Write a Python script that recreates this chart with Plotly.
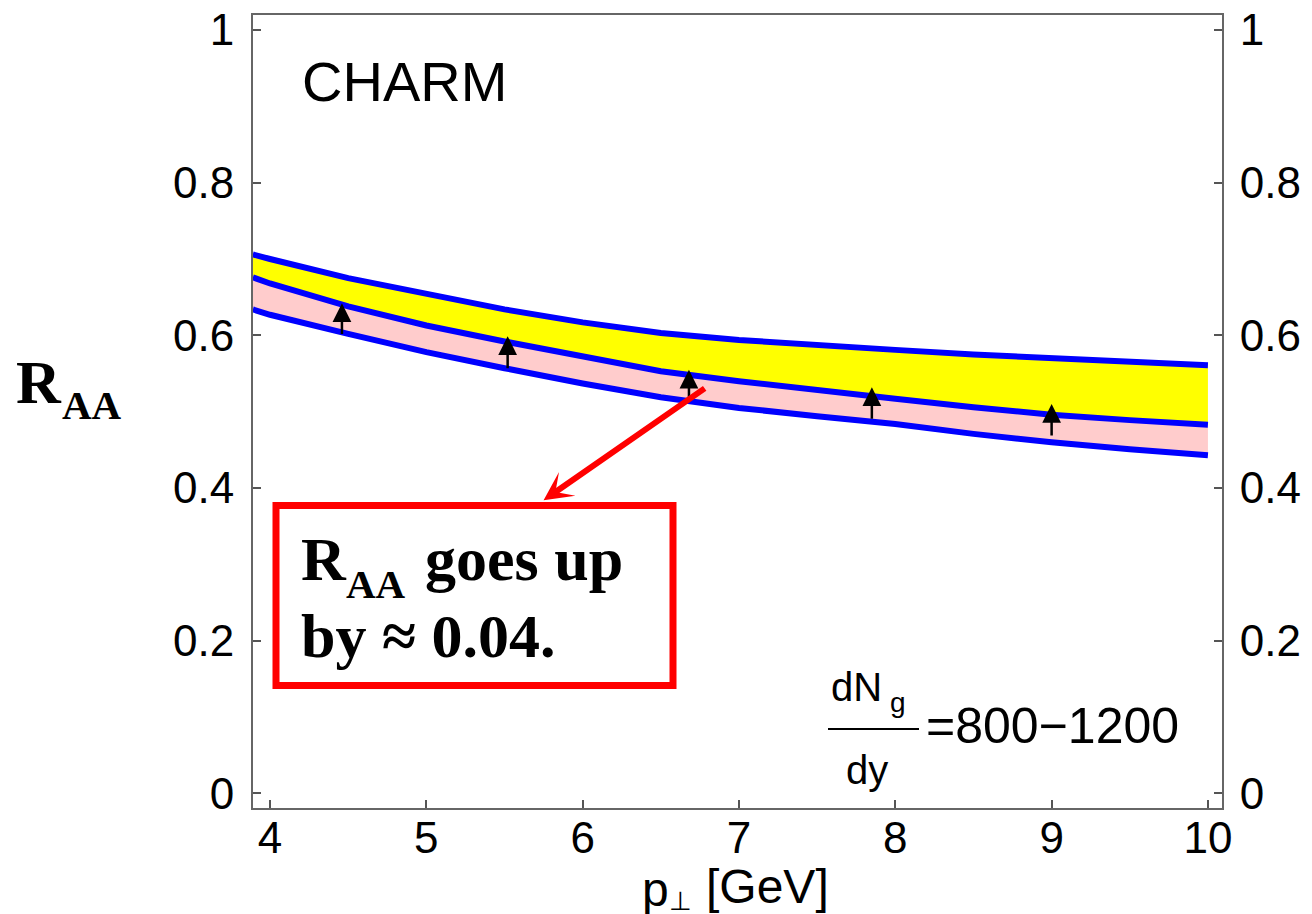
import plotly.graph_objects as go

# ---------------- data ----------------
pt = [3.89, 4.0, 4.5, 5.0, 5.5, 6.0, 6.5, 7.0, 7.5, 8.0, 8.5, 9.0, 9.5, 10.0]
raa_upper = [0.706, 0.700, 0.675, 0.655, 0.634, 0.617, 0.603, 0.594, 0.587, 0.581, 0.575, 0.570, 0.565, 0.561]
raa_middle = [0.676, 0.668, 0.638, 0.613, 0.592, 0.572, 0.553, 0.540, 0.528, 0.517, 0.506, 0.496, 0.489, 0.483]
raa_lower = [0.634, 0.627, 0.602, 0.578, 0.557, 0.537, 0.519, 0.505, 0.494, 0.484, 0.471, 0.460, 0.451, 0.443]

arrow_x = [4.46, 5.52, 6.68, 7.85, 9.0]
arrow_from = [0.600, 0.555, 0.511, 0.489, 0.467]
arrow_to = [0.642, 0.599, 0.555, 0.532, 0.510]

x_ticks = [4, 5, 6, 7, 8, 9, 10]
x_ticklabels = ["4", "5", "6", "7", "8", "9", "10"]
y_ticks = [0, 0.2, 0.4, 0.6, 0.8, 1.0]
y_ticklabels = ["0", "0.2", "0.4", "0.6", "0.8", "1"]

# red pointer (tail -> head) in data units
pointer_tail = (6.79, 0.532)
pointer_head = (5.75, 0.384)

# ---------------- geometry helpers ----------------
# page pixel positions of the plot frame; the page body has an 8px margin
OFF = 8
L, R, T, B = 253, 1222, 15, 808
W, H = R - L, B - T


def px(x):
    return (x - L) / W


def py(y):
    return (B - y) / H


SANS = "Liberation Sans, Arial, sans-serif"
SERIF = "Liberation Serif, Times New Roman, serif"
BLUE = "#0000FF"

fig = go.Figure()

# bands
fig.add_trace(go.Scatter(x=pt, y=raa_lower, mode="lines", line=dict(width=0, color=BLUE),
                         hoverinfo="skip"))
fig.add_trace(go.Scatter(x=pt, y=raa_middle, mode="lines", line=dict(width=0, color=BLUE),
                         fill="tonexty", fillcolor="#FFCCCC", hoverinfo="skip"))
fig.add_trace(go.Scatter(x=pt, y=raa_upper, mode="lines", line=dict(width=0, color=BLUE),
                         fill="tonexty", fillcolor="#FFFF00", hoverinfo="skip"))
# blue curves
for series in (raa_lower, raa_middle, raa_upper):
    fig.add_trace(go.Scatter(x=pt, y=series, mode="lines", line=dict(width=6, color=BLUE),
                             hoverinfo="skip"))
# invisible trace for right axis
fig.add_trace(go.Scatter(x=[pt[0]], y=[raa_upper[0]], yaxis="y2", mode="markers",
                         marker=dict(opacity=0), hoverinfo="skip"))

annotations = []
# black arrows
for xa, y0, y1 in zip(arrow_x, arrow_from, arrow_to):
    annotations.append(dict(x=xa, y=y1, ax=xa, ay=y0, xref="x", yref="y", axref="x", ayref="y",
                            text="", showarrow=True, arrowhead=2, arrowsize=1.5, arrowwidth=2.5,
                            arrowcolor="black", standoff=0))
# red pointer
annotations.append(dict(x=pointer_head[0], y=pointer_head[1], ax=pointer_tail[0], ay=pointer_tail[1],
                        xref="x", yref="y", axref="x", ayref="y", text="", showarrow=True,
                        arrowhead=3, arrowsize=0.8, arrowwidth=6, arrowcolor="#FF0000", standoff=0))


def txt(text, x, y, size, family=SANS, bold=False, xanchor="left", yanchor="middle"):
    t = "<b>%s</b>" % text if bold else text
    annotations.append(dict(text=t, x=px(x), y=py(y), xref="paper", yref="paper",
                            xanchor=xanchor, yanchor=yanchor, showarrow=False,
                            font=dict(family=family, size=size, color="black")))


# CHARM
txt("CHARM", 300, 81, 56)
# y-axis title
txt("R", 14, 382, 62, SERIF, True)
txt("AA", 60, 405, 41, SERIF, True)
# x-axis title
txt("p", 640, 889, 48)
txt("⊥", 667, 901, 26)
txt("[GeV]", 704, 886, 48)
# box text
txt("R", 299, 559, 62, SERIF, True)
txt("AA", 344, 584, 41, SERIF, True)
txt("goes up", 423, 559, 62, SERIF, True)
txt("by ≈ 0.04.", 299, 636, 62, SERIF, True)
# dNg/dy
txt("dN", 829, 687, 40)
txt("g", 888, 702, 28)
txt("dy", 844, 770, 40)
txt("=800−1200", 924, 726, 50)

shapes = [
    dict(type="rect", xref="paper", yref="paper", x0=px(276), x1=px(673), y0=py(505.5), y1=py(685.5),
         line=dict(color="#FF0000", width=7), fillcolor="rgba(0,0,0,0)"),
    dict(type="line", xref="paper", yref="paper", x0=px(828), x1=px(919), y0=py(729), y1=py(729),
         line=dict(color="black", width=2)),
]

axis_common = dict(showgrid=False, zeroline=False, showline=True, linecolor="#666666", linewidth=2,
                   ticks="inside", ticklen=8, tickwidth=2, tickcolor="#555555", automargin=False,
                   ticklabeloverflow="allow",
                   tickfont=dict(family=SANS, size=44, color="black"))

fig.update_layout(
    width=1312, height=914,
    margin=dict(l=L - OFF, r=1312 - R + OFF, t=T - OFF, b=914 - B + OFF, autoexpand=False),
    plot_bgcolor="white", paper_bgcolor="white", showlegend=False,
    xaxis=dict(range=[3.891, 10.09], tickvals=x_ticks, ticktext=x_ticklabels, mirror=True,
               ticklabelstandoff=-10, **axis_common),
    yaxis=dict(range=[-0.019, 1.0196], tickvals=y_ticks, ticktext=y_ticklabels,
               ticklabelstandoff=8, **axis_common),
    yaxis2=dict(range=[-0.019, 1.0196], tickvals=y_ticks, ticktext=y_ticklabels, overlaying="y",
                side="right", ticklabelstandoff=7, **axis_common),
    annotations=annotations,
    shapes=shapes,
)

fig.write_html("out.html")
